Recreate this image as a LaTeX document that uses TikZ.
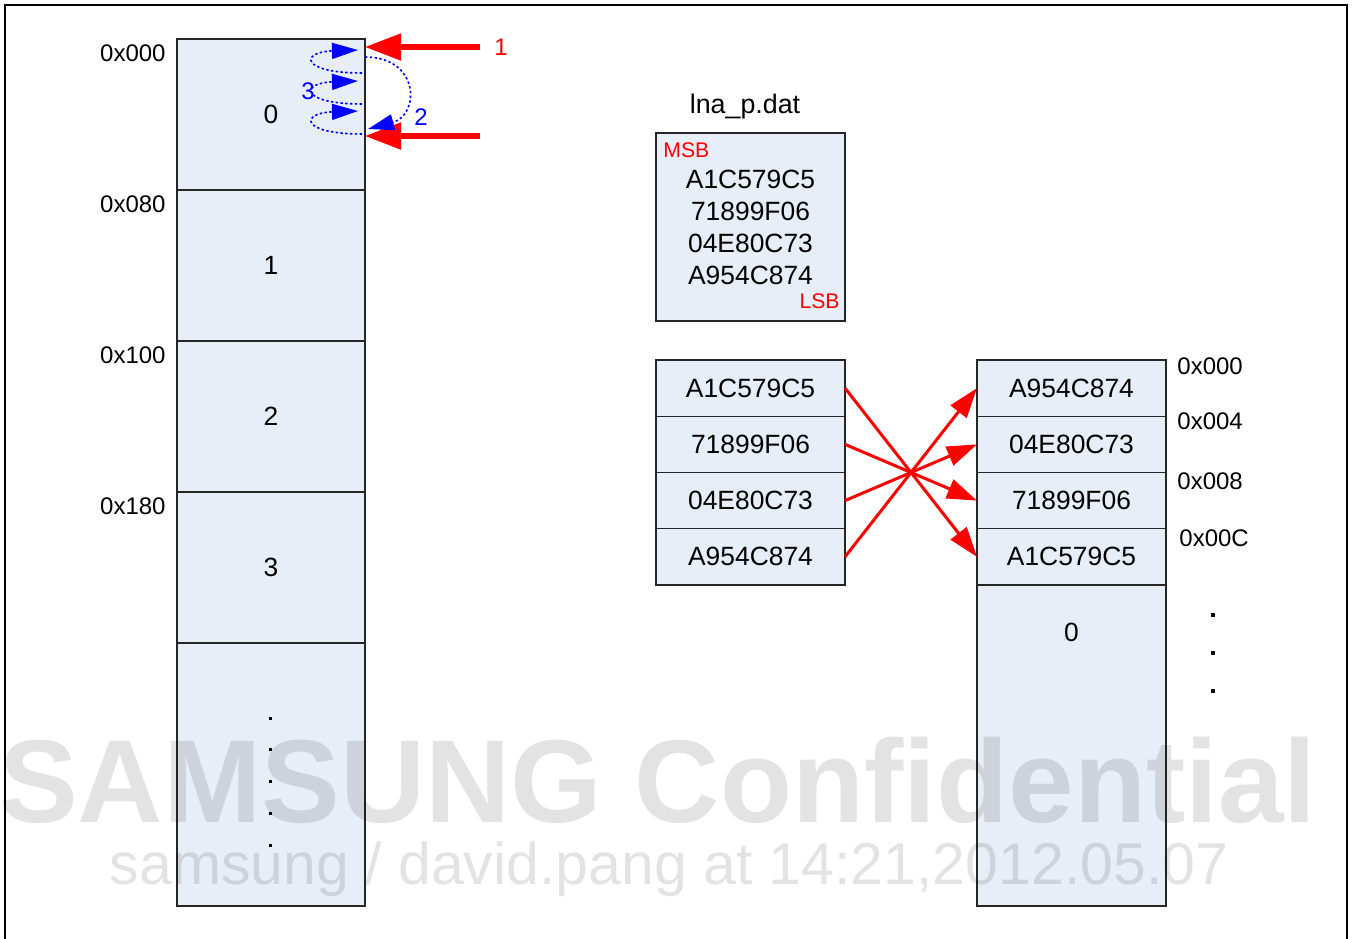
\documentclass[tikz,border=0pt]{standalone}
\usepackage{fontspec}
\setmainfont{Liberation Sans}
\usepackage{tikz}
\usetikzlibrary{arrows.meta, positioning, calc}
\definecolor{cellblue}{RGB}{232, 238, 247}
\definecolor{swapred}{RGB}{255, 0, 0}
\definecolor{scanblue}{RGB}{0, 0, 255}

\begin{document}
\begin{tikzpicture}[
        x=0.5pt, y=-0.5pt,
        every node/.style={font=\fontsize{13.2}{16}\selectfont, inner sep=0pt},
        cell/.style={draw=black!85, line width=0.7pt, outer sep=0pt, fill=cellblue, minimum width=94pt, minimum height=75.5pt},
        word/.style={cell, minimum width=94.5pt, minimum height=28.125pt},
        addr/.style={font=\fontsize{12}{14}\selectfont},
        tag/.style={font=\fontsize{10.6}{12}\selectfont, text=swapred},
        bigarrow/.style={draw=swapred, line width=2.6pt, -{Triangle[length=18pt, width=13pt]}},
        swap/.style={draw=swapred, line width=1.5pt, -{Triangle[length=15pt, width=10pt]}},
        scan/.style={draw=scanblue, line width=0.8pt, dash pattern=on 1.2pt off 1.2pt, -{Triangle[length=13pt, width=8pt]}},
        wmark/.style={text=black, text opacity=0.11}
    ]
        \useasboundingbox (0,0) rectangle (1354,938);
        \draw[line width=1.3pt] (5,945) -- (5,5) -- (1347,5) -- (1347,945);

        \node[cell] (c0) at (271,114.5) {0};
        \node[cell, below=0pt of c0] (c1) {1};
        \node[cell, below=0pt of c1] (c2) {2};
        \node[cell, below=0pt of c2] (c3) {3};
        \node[cell, minimum height=131.5pt, below=0pt of c3] (c4) {};
        \foreach \y in {717,748,780,812,844}
            \fill (269,\y) rectangle +(3,3);
        \foreach \n/\t in {0/0x000,1/0x080,2/0x100,3/0x180}
            \node[addr, anchor=east] (a\n) at ([xshift=-5.5pt, yshift=-7pt]c\n.north west) {\t};

        \coordinate (in1) at (480,47);
        \coordinate (in2) at (480,136);
        \draw[bigarrow] (in1) -- (in1 -| c0.east);
        \draw[bigarrow] (in2) -- (in2 -| c0.east);
        \node[addr, text=swapred, anchor=west, right=7pt of in1] (n1) {1};

        \foreach \y [count=\i] in {50,81,111} {
            \coordinate (ls\i) at (362,\y+23);
            \coordinate (lt\i) at (358,\y);
            \draw[scan] (ls\i) .. controls (300,\y+23) and (300,\y+2) .. (lt\i);
        }
        \coordinate (ps) at (365,57);
        \coordinate (pt) at (368,129);
        \draw[scan] (ps) .. controls (420,57) and (420,115) .. (pt);
        \node[addr, text=scanblue] (n2) at (421,117) {2};
        \node[addr, text=scanblue] (n3) at (308,91) {3};

        \node[font=\fontsize{13.4}{16}\selectfont] (title) at (745,107) {lna\_p.dat};
        \node[cell, minimum width=94.5pt, minimum height=94pt, align=center] (dat) at (750.5,227) {A1C579C5\\71899F06\\04E80C73\\A954C874};
        \node[tag, anchor=north west] (msb) at ([xshift=3.5pt, yshift=-4.7pt]dat.north west) {MSB};
        \node[tag, anchor=south east] (lsb) at ([xshift=-2.5pt, yshift=6.2pt]dat.south east) {LSB};

        \node[word] (w1) at (750.5,388.1) {A1C579C5};
        \node[word, below=0pt of w1] (w2) {71899F06};
        \node[word, below=0pt of w2] (w3) {04E80C73};
        \node[word, below=0pt of w3] (w4) {A954C874};

        \node[word] (m1) at (1071.5,388.1) {A954C874};
        \node[word, below=0pt of m1] (m2) {04E80C73};
        \node[word, below=0pt of m2] (m3) {71899F06};
        \node[word, below=0pt of m3] (m4) {A1C579C5};
        \node[word, minimum height=160.5pt, below=0pt of m4] (m5) {};
        \node (m5lbl) at ([yshift=-23.5pt]m5.north) {0};

        \draw[swap] (w1.east) -- (m4.west);
        \draw[swap] (w2.east) -- (m3.west);
        \draw[swap] (w3.east) -- (m2.west);
        \draw[swap] (w4.east) -- (m1.west);

        \node[addr, anchor=west] (b0) at (1177,366) {0x000};
        \node[addr, anchor=west] (b1) at (1177,421) {0x004};
        \node[addr, anchor=west] (b2) at (1177,481) {0x008};
        \node[addr, anchor=west] (b3) at (1179,538) {0x00C};
        \foreach \y in {615,653,691}
            \fill (1211,\y-2) rectangle +(4,4);

        \node[wmark, font=\bfseries\fontsize{59}{60}\selectfont] (wm1) at (658,780) {SAMSUNG Confidential};
        \node[wmark, font=\fontsize{29.5}{30}\selectfont] (wm2) at (669,869) {samsung / david.pang at 14:21,2012.05.07};
    \end{tikzpicture}
\end{document}
